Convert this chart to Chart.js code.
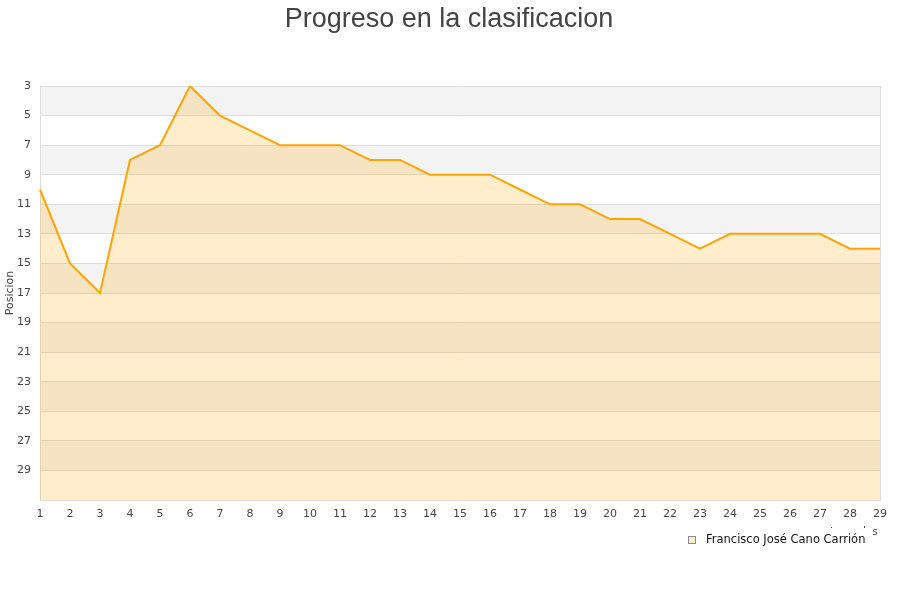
<!DOCTYPE html>
<html>
<head>
<meta charset="utf-8">
<script src="https://cdn.jsdelivr.net/npm/chart.js@4.4.0/dist/chart.umd.min.js"></script>
<style>
html,body{margin:0;padding:0;background:#fff;}
#wrap{width:900px;height:600px;position:relative;}
</style>
</head>
<body>
<div id="wrap"><canvas id="c" width="900" height="600"></canvas></div>
<script>
const jornadas = ['1','2','3','4','5','6','7','8','9','10','11','12','13','14','15','16','17','18','19','20','21','22','23','24','25','26','27','28','29'];
const posiciones = [10,15,17,8,7,3,5,6,7,7,7,8,8,9,9,9,10,11,11,12,12,13,14,13,13,13,13,14,14];
const yTicks = [3,5,7,9,11,13,15,17,19,21,23,25,27,29];
const serieNombre = 'Francisco José Cano Carrión';
const tituloTexto = 'Progreso en la clasificacion';
const ejeY = 'Posicion';
const ejeXFragmento = 's';

const decorPlugin = {
  id: 'decor',
  beforeDraw(chart) {
    const {ctx, chartArea} = chart;
    const y = chart.scales.y;
    ctx.save();
    ctx.fillStyle = '#f3f3f3';
    for (let v = 3; v < 31; v += 4) {
      const y1 = y.getPixelForValue(v), y2 = y.getPixelForValue(Math.min(v + 2, 31));
      ctx.fillRect(chartArea.left, Math.min(y1, y2), chartArea.right - chartArea.left, Math.abs(y2 - y1));
    }
    ctx.restore();
  },
  afterDraw(chart) {
    const {ctx, chartArea} = chart;
    ctx.save();
    // right border of plot
    ctx.strokeStyle = '#dddddd';
    ctx.lineWidth = 1;
    ctx.beginPath();
    ctx.moveTo(chartArea.right + 0.5, chartArea.top);
    ctx.lineTo(chartArea.right + 0.5, chartArea.bottom);
    ctx.stroke();
    // title
    ctx.fillStyle = '#444';
    ctx.font = '27px "Liberation Sans", Arial, sans-serif';
    ctx.textAlign = 'center';
    ctx.textBaseline = 'alphabetic';
    ctx.fillText(tituloTexto, 449, 27);
    // clipped x-axis title fragment
    ctx.font = '10px "DejaVu Sans"';
    ctx.textBaseline = 'middle';
    ctx.fillText(ejeXFragmento, chartArea.right - 5, 532);
    ctx.fillRect(831, 527, 1, 1);
    ctx.fillRect(864, 526, 1, 2);
    // legend
    const ds = chart.data.datasets[0];
    ctx.fillStyle = ds.backgroundColor;
    ctx.fillRect(688.5, 536.5, 7, 7);
    ctx.strokeStyle = '#8a8a8a';
    ctx.strokeRect(688.5, 536.5, 7, 7);
    ctx.fillStyle = '#111';
    ctx.font = '11.5px "DejaVu Sans"';
    ctx.textAlign = 'left';
    ctx.textBaseline = 'middle';
    ctx.fillText(ds.label, 706, 540);
    ctx.restore();
  }
};

new Chart(document.getElementById('c'), {
  type: 'line',
  data: {
    labels: jornadas,
    datasets: [{
      label: serieNombre,
      data: posiciones,
      borderColor: '#ffa500',
      backgroundColor: 'rgba(255,165,0,0.2)',
      borderWidth: 2,
      pointRadius: 0,
      tension: 0,
      fill: {value: 31}
    }]
  },
  options: {
    responsive: false,
    animation: false,
    layout: {padding: {left: 0, right: 20, top: 86, bottom: 76}},
    plugins: {
      title: {display: false},
      legend: {display: false},
      tooltip: {enabled: false}
    },
    scales: {
      x: {
        offset: false,
        grid: {display: false, drawTicks: false},
        border: {display: true, color: '#dddddd'},
        ticks: {color: '#444', font: {family: '"DejaVu Sans"', size: 11}, padding: 8, maxRotation: 0, autoSkip: false},
        afterFit(scale) { scale.height = 24; }
      },
      y: {
        reverse: true,
        min: 3,
        max: 31,
        afterBuildTicks(scale) { scale.ticks = yTicks.map(v => ({value: v})); },
        grid: {color: '#dddddd', drawTicks: false},
        border: {display: true, color: '#dddddd'},
        ticks: {color: '#444', font: {family: '"DejaVu Sans"', size: 11}, padding: 9},
        title: {display: true, text: ejeY, color: '#444', font: {family: '"DejaVu Sans"', size: 11}, padding: {top: 4, bottom: 0}},
        afterFit(scale) { scale.width = 40; }
      }
    }
  },
  plugins: [decorPlugin]
});
</script>
</body>
</html>
